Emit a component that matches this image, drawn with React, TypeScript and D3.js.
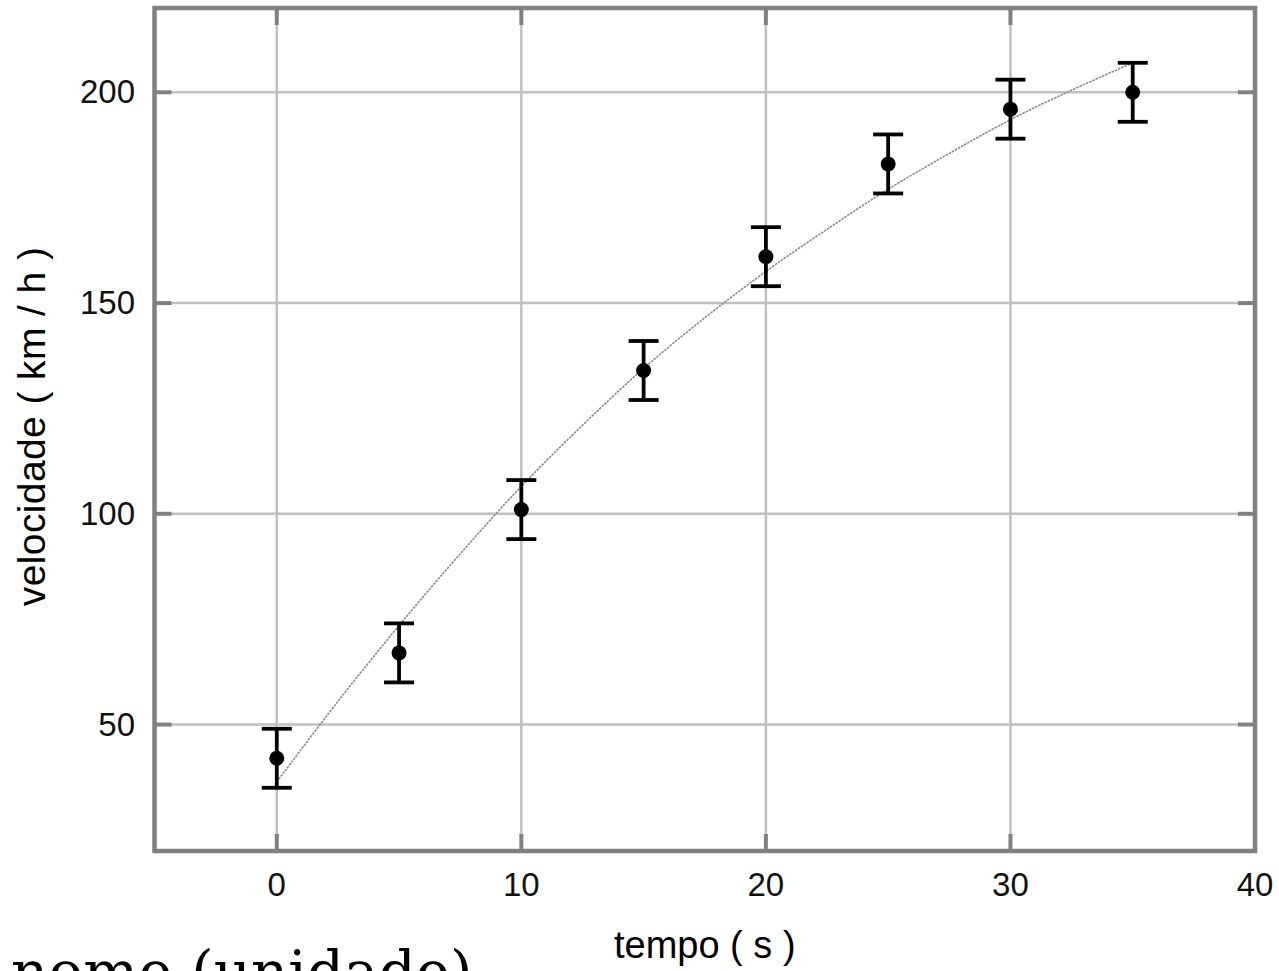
import * as d3 from "d3";
import { useEffect, useRef } from "react";

// measured points: time (s), speed (km/h), error (km/h)
const tempo = [0, 5, 10, 15, 20, 25, 30, 35];
const velocidade = [42, 67, 101, 134, 161, 183, 196, 200];
const erro = [7, 7, 7, 7, 7, 7, 7, 7];

// fitted curve
const fitTempo = [0, 2.5, 5, 7.5, 10, 12.5, 15, 17.5, 20, 22.5, 25, 27.5, 30, 32.5, 35];
const fitVelocidade = [36.4, 55.5, 73.5, 90.5, 106.5, 121, 134.5, 146.5, 157.5, 167.5, 177, 185.5, 193.5, 200.5, 207];

const xTicks = [0, 10, 20, 30, 40];
const yTicks = [50, 100, 150, 200];

export default function App() {
  const ref = useRef<SVGSVGElement | null>(null);

  useEffect(() => {
    if (!ref.current) return;
    const svg = d3.select(ref.current);
    svg.selectAll("*").remove();

    const W = 1279;
    const H = 971;
    const left = 154.5;
    const right = 1255;
    const top = 8;
    const bottom = 851;

    const x = d3.scaleLinear().domain([-5, 40]).range([left, right]);
    const y = d3.scaleLinear().domain([20, 220]).range([bottom, top]);

    svg.attr("width", W).attr("height", H).attr("viewBox", `0 0 ${W} ${H}`);

    /* grid */
    const grid = svg.append("g").attr("stroke", "#c0c0c0").attr("stroke-width", 2.5);
    grid
      .selectAll(".gx")
      .data(xTicks.filter((d) => d < 40))
      .enter()
      .append("line")
      .attr("x1", (d) => x(d))
      .attr("x2", (d) => x(d))
      .attr("y1", top)
      .attr("y2", bottom);
    grid
      .selectAll(".gy")
      .data(yTicks)
      .enter()
      .append("line")
      .attr("x1", left)
      .attr("x2", right)
      .attr("y1", (d) => y(d))
      .attr("y2", (d) => y(d));

    /* inward ticks on all four sides */
    const tickLen = 17;
    const ticks = svg.append("g").attr("stroke", "#808080").attr("stroke-width", 4);
    xTicks
      .filter((d) => d < 40)
      .forEach((d) => {
        ticks.append("line").attr("x1", x(d)).attr("x2", x(d)).attr("y1", top).attr("y2", top + tickLen);
        ticks.append("line").attr("x1", x(d)).attr("x2", x(d)).attr("y1", bottom).attr("y2", bottom - tickLen);
      });
    yTicks.forEach((d) => {
      ticks.append("line").attr("x1", left).attr("x2", left + tickLen).attr("y1", y(d)).attr("y2", y(d));
      ticks.append("line").attr("x1", right).attr("x2", right - tickLen).attr("y1", y(d)).attr("y2", y(d));
    });

    /* frame */
    svg
      .append("rect")
      .attr("x", left)
      .attr("y", top)
      .attr("width", right - left)
      .attr("height", bottom - top)
      .attr("fill", "none")
      .attr("stroke", "#808080")
      .attr("stroke-width", 4.5);

    /* tick labels */
    const font = "'Liberation Sans', Arial, sans-serif";
    svg
      .selectAll(".xl")
      .data(xTicks)
      .enter()
      .append("text")
      .attr("x", (d) => x(d))
      .attr("y", 896)
      .attr("text-anchor", "middle")
      .style("font-family", font)
      .style("font-size", "33px")
      .style("fill", "#111")
      .text((d) => d);
    svg
      .selectAll(".yl")
      .data(yTicks)
      .enter()
      .append("text")
      .attr("x", 135)
      .attr("y", (d) => y(d) + 11)
      .attr("text-anchor", "end")
      .style("font-family", font)
      .style("font-size", "33px")
      .style("fill", "#111")
      .text((d) => d);

    /* axis titles */
    svg
      .append("text")
      .attr("x", (left + right) / 2)
      .attr("y", 958)
      .attr("text-anchor", "middle")
      .style("font-family", font)
      .style("font-size", "38px")
      .style("fill", "#000")
      .text("tempo ( s )");
    svg
      .append("text")
      .attr("transform", `translate(45, ${(top + bottom) / 2 - 3}) rotate(-90)`)
      .attr("text-anchor", "middle")
      .style("font-family", font)
      .style("font-size", "39px")
      .style("letter-spacing", "0.4px")
      .style("fill", "#000")
      .text("velocidade ( km / h )");

    /* fit curve */
    const fit = fitTempo.map((t, i) => [t, fitVelocidade[i]] as [number, number]);
    svg
      .append("path")
      .datum(fit)
      .attr("fill", "none")
      .attr("stroke", "#8a8a8a")
      .attr("stroke-width", 1.6)
      .attr("stroke-dasharray", "2.5 1")
      .attr(
        "d",
        d3
          .line<[number, number]>()
          .x((d) => x(d[0]))
          .y((d) => y(d[1]))
          .curve(d3.curveCatmullRom)
      );

    /* error bars + points */
    const data = tempo.map((t, i) => ({ t, v: velocidade[i], e: erro[i] }));
    const pts = svg.append("g").attr("stroke", "#000").attr("stroke-width", 3.8);
    data.forEach((d) => {
      const cx = x(d.t);
      pts.append("line").attr("x1", cx).attr("x2", cx).attr("y1", y(d.v - d.e)).attr("y2", y(d.v + d.e));
      pts.append("line").attr("x1", cx - 15).attr("x2", cx + 15).attr("y1", y(d.v + d.e)).attr("y2", y(d.v + d.e));
      pts.append("line").attr("x1", cx - 15).attr("x2", cx + 15).attr("y1", y(d.v - d.e)).attr("y2", y(d.v - d.e));
    });
    svg
      .selectAll(".pt")
      .data(data)
      .enter()
      .append("circle")
      .attr("cx", (d) => x(d.t))
      .attr("cy", (d) => y(d.v))
      .attr("r", 7.5)
      .attr("fill", "#000");

    /* caption at the bottom, cut by the page edge as in the reference */
    svg
      .append("text")
      .attr("x", 11)
      .attr("y", 992)
      .style("font-family", "'DejaVu Serif', serif")
      .style("font-size", "58px")
      .style("fill", "#000")
      .text("nome (unidade)");
  }, []);

  return (
    <svg
      ref={ref}
      style={{ position: "absolute", left: 0, top: 0, display: "block", background: "#fff" }}
    />
  );
}
